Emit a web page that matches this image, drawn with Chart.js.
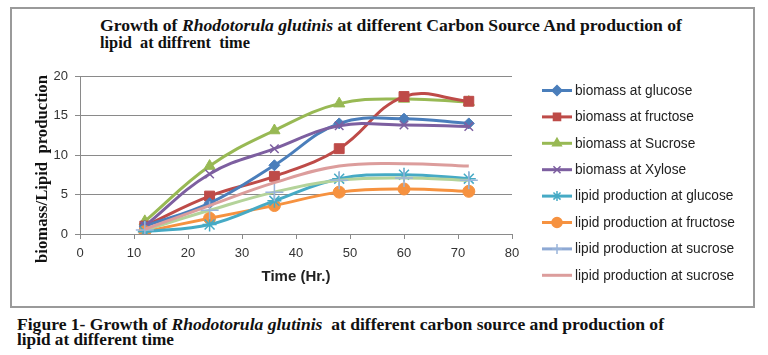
<!DOCTYPE html>
<html>
<head>
<meta charset="utf-8">
<script src="https://cdn.jsdelivr.net/npm/chart.js@4"></script>
<style>
  html, body { margin:0; padding:0; background:#fff; }
  #wrap { position:absolute; left:0; top:0; width:768px; height:355px; }
  #box { position:absolute; left:10px; top:7px; width:741px; height:297px; border:2px solid #9a9a9a; }
  .line { position:absolute; white-space:pre; color:#111; transform-origin:0 0; }
  .line span { display:inline-block; }
  .t { font:bold 16.5px "Liberation Serif", serif; line-height:17px; }
  .c { font:bold 17px "Liberation Serif", serif; line-height:15px; }
</style>
</head>
<body>
<div id="box"></div>
<div class="line t" id="t1" style="left:100px;top:17px"><span>Growth of <i>Rhodotorula glutinis</i> at different Carbon Source And production of</span></div>
<div class="line t" id="t2" style="left:100px;top:34px"><span>lipid  at diffrent  time</span></div>
<div class="line c" id="c1" style="left:17px;top:317px"><span>Figure 1- Growth of <i>Rhodotorula glutinis</i>  at different carbon source and production of</span></div>
<div class="line c" id="c2" style="left:17px;top:332px"><span>lipid at different time</span></div>
<div id="wrap"><canvas id="c"></canvas></div>
<script>
// ---- data ----
const hours = [12, 24, 36, 48, 60, 72];
const biomassGlucose  = [1.0, 3.9, 8.7, 14.0, 14.6, 14.0];
const biomassFructose = [1.0, 4.8, 7.3, 10.8, 17.4, 16.8];
const biomassSucrose  = [1.6, 8.6, 13.1, 16.5, 17.1, 16.7];
const biomassXylose   = [1.0, 7.6, 10.8, 13.7, 13.8, 13.6];
const lipidGlucose    = [0.3, 1.2, 4.2, 7.0, 7.5, 7.0];
const lipidFructose   = [0.3, 2.0, 3.6, 5.3, 5.7, 5.4];
const lipidSucrose    = [0.5, 3.0, 5.3, 6.8, 7.1, 6.8];
const lipidSucrose2   = [0.6, 3.6, 6.5, 8.6, 8.9, 8.6];
const seriesNames = [
  'biomass at glucose', 'biomass at fructose', 'biomass at Sucrose', 'biomass at Xylose',
  'lipid production at glucose', 'lipid production at fructose', 'lipid production at sucrose', 'lipid production at sucrose'
];
const xTicks = [0, 10, 20, 30, 40, 50, 60, 70, 80];
const yTicks = [0, 5, 10, 15, 20];

// fit text lines horizontally to the reference extents
function fit(id, target) {
  const el = document.getElementById(id);
  const w = el.firstElementChild.getBoundingClientRect().width;
  if (w > 0) el.style.transform = 'scaleX(' + (target / w) + ')';
}
fit('t1', 582); fit('t2', 150); fit('c1', 647); fit('c2', 157);

const pts = arr => arr.map((v, i) => ({ x: hours[i], y: v }));

const styles = [
  { color:'#4A7EBB', point:'rectRot', r:5.5, pc:'#4A7EBB' },
  { color:'#BE4B48', point:'rect', r:7, pc:'#BE4B48' },
  { color:'#98B954', point:'triangle', r:6.5, pc:'#98B954' },
  { color:'#7D5FA0', point:'crossRot', r:6, pc:'#7D5FA0' },
  { color:'#46AAC5', point:'star', r:7, pc:'#46AAC5' },
  { color:'#F69240', point:'circle', r:6, pc:'#F69240' },
  { color:'#B4D39A', point:'cross', r:9, pc:'#9AB5DA', legend:'#8EA9D4' },
  { color:'#DC9D9C', point:false, r:0, pc:'#DC9D9C' }
];
const valueSets = [biomassGlucose, biomassFructose, biomassSucrose, biomassXylose,
                   lipidGlucose, lipidFructose, lipidSucrose, lipidSucrose2];

const order = [7, 6, 4, 5, 3, 0, 1, 2];
const datasets = valueSets.map((vals, i) => {
  const s = styles[i];
  return {
    label: seriesNames[i],
    data: pts(vals),
    borderColor: s.color,
    backgroundColor: s.pc,
    pointBorderColor: s.pc,
    pointBackgroundColor: s.pc,
    pointStyle: s.point,
    pointRadius: s.r,
    pointBorderWidth: (s.point === 'crossRot' || s.point === 'star' || s.point === 'cross') ? 1.5 : 1,
    borderWidth: 3,
    tension: 0.4,
    fill: false,
    order: order.indexOf(i),
    legendColor: s.legend || s.color
  };
});

function fittedFont(ctx, text, weight, family, base, target) {
  ctx.font = weight + ' ' + base + 'px ' + family;
  const w = ctx.measureText(text).width;
  const size = base * target / w;
  return weight + ' ' + size.toFixed(2) + 'px ' + family;
}

const overlay = {
  id: 'overlay',
  afterDraw(chart) {
    const ctx = chart.ctx;
    ctx.save();
    const yTitle = 'biomass/Lipid  production';
    ctx.font = fittedFont(ctx, yTitle, 'bold', '"Liberation Serif", serif', 16, 188);
    ctx.translate(43, 169);
    ctx.rotate(-Math.PI / 2);
    ctx.fillStyle = '#111';
    ctx.textAlign = 'center';
    ctx.textBaseline = 'middle';
    ctx.fillText(yTitle, 0, 0);
    ctx.restore();

    // legend
    ctx.save();
    const x0 = 542, x1 = 572, y0 = 90.5, dy = 26.4;
    const legendFont = fittedFont(ctx, 'lipid production at fructose', 'normal', '"Liberation Sans", sans-serif', 12, 160);
    chart.data.datasets.forEach((ds, i) => {
      const y = y0 + i * dy;
      ctx.strokeStyle = ds.legendColor;
      ctx.lineWidth = 3;
      ctx.lineCap = 'butt';
      ctx.beginPath(); ctx.moveTo(x0, y); ctx.lineTo(x1, y); ctx.stroke();
      if (ds.pointStyle) {
        ctx.fillStyle = ds.pointBackgroundColor;
        ctx.strokeStyle = ds.pointBorderColor;
        ctx.lineWidth = 1.5;
        Chart.helpers.drawPoint(ctx, { pointStyle: ds.pointStyle, radius: Math.min(ds.pointRadius, 5), borderWidth: 1.5, rotation: 0 }, (x0 + x1) / 2, y);
      }
      ctx.font = legendFont;
      ctx.fillStyle = '#222';
      ctx.textAlign = 'left';
      ctx.textBaseline = 'middle';
      ctx.fillText(ds.label, 575, y + 0.5);
    });
    ctx.restore();
  }
};

new Chart(document.getElementById('c'), {
  type: 'line',
  data: { datasets },
  plugins: [overlay],
  options: {
    responsive: true,
    maintainAspectRatio: false,
    animation: false,
    events: [],
    layout: { padding: { left: 34, right: 256, top: 76, bottom: 67 } },
    plugins: { legend: { display: false }, tooltip: { enabled: false }, title: { display: false } },
    scales: {
      x: {
        type: 'linear', min: 0, max: 80,
        afterBuildTicks: s => { s.ticks = xTicks.map(v => ({ value: v })); },
        afterFit: s => { s.height = 54; },
        border: { display: true, color: '#8a8a8a', width: 1 },
        grid: { drawOnChartArea: false, drawTicks: true, tickLength: 5, color: '#8a8a8a' },
        ticks: { color: '#333', font: { family: '"Liberation Sans", sans-serif', size: 13 }, padding: 7, maxRotation: 0 },
        title: { display: true, text: 'Time (Hr.)', color: '#222', font: { family: '"Liberation Sans", sans-serif', size: 15, weight: 'bold' }, padding: { top: 2, bottom: 2 } }
      },
      y: {
        type: 'linear', min: 0, max: 20,
        afterBuildTicks: s => { s.ticks = yTicks.map(v => ({ value: v })); },
        afterFit: s => { s.width = 46; },
        border: { display: true, color: '#8a8a8a', width: 1 },
        grid: { drawOnChartArea: true, drawTicks: true, tickLength: 5, color: '#8a8a8a' },
        ticks: { color: '#333', font: { family: '"Liberation Sans", sans-serif', size: 13 }, padding: 7 }
      }
    }
  }
});
</script>
</body>
</html>
